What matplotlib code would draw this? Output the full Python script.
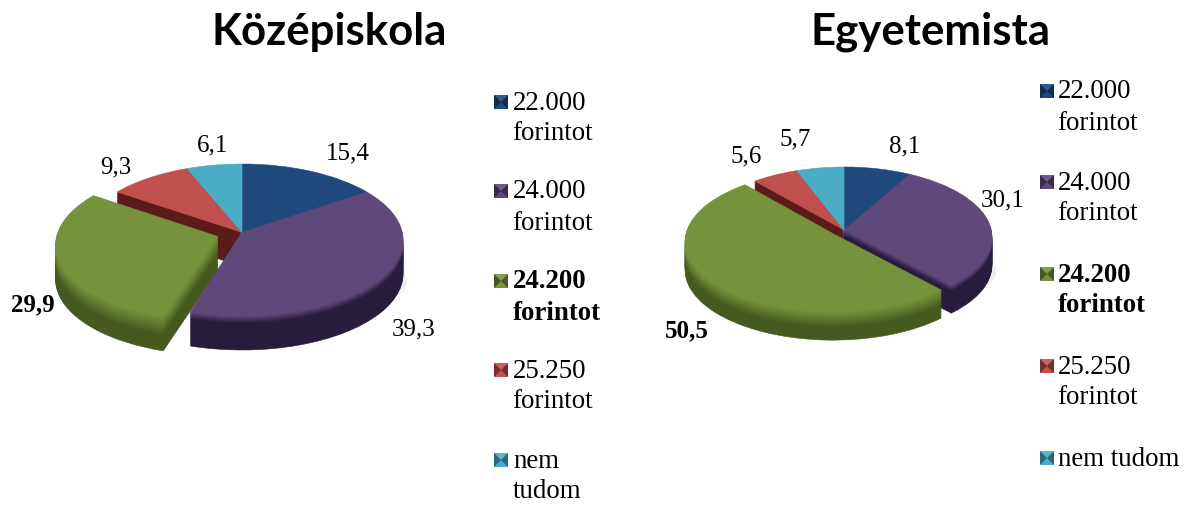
import matplotlib
matplotlib.use("Agg")
import matplotlib.pyplot as plt
import numpy as np
from matplotlib.colors import to_rgb
from matplotlib.patches import Ellipse, Polygon, Rectangle
from matplotlib.transforms import Transform

W, H = 1187, 505

titles = ["Középiskola", "Egyetemista"]
values_kozep = [15.4, 39.3, 29.9, 9.3, 6.1]
values_egyetem = [8.1, 30.1, 50.5, 5.6, 5.7]
labels_kozep = ["15,4", "39,3", "29,9", "9,3", "6,1"]
labels_egyetem = ["8,1", "30,1", "50,5", "5,6", "5,7"]
legend_kozep = ["22.000\nforintot", "24.000\nforintot", "24.200\nforintot", "25.250\nforintot", "nem\ntudom"]
legend_egyetem = ["22.000\nforintot", "24.000\nforintot", "24.200\nforintot", "25.250\nforintot", "nem tudom"]
top_colors = ["#1f497d", "#5f497a", "#76923c", "#c0504d", "#4bacc6"]
dark_colors = ["#10274a", "#281c3c", "#46591f", "#5a1c1a", "#205868"]
blend_start = [0.85, 0.78, 0.45, 0.97, 0.85]

fig = plt.figure(figsize=(W / 100, H / 100), dpi=100, facecolor="white")


class Tilt(Transform):
    """Perspective of the pie plane: keeps the rim a circle, moves the apex back."""
    input_dims = output_dims = 2
    is_separable = False
    has_inverse = False

    def __init__(self, r, c, dy):
        super().__init__()
        self.r, self.c, self.dy = r, c, dy

    def transform_non_affine(self, xy):
        xy = np.asarray(xy, dtype=float)
        x, y = xy[:, 0] / self.r, xy[:, 1] / self.r
        d = 1 + self.c * y
        s = np.sqrt(1 - self.c ** 2)
        return np.column_stack((x * s / d * self.r, (y + self.c) / d * self.r + self.dy))


def mix(a, b, t):
    a, b = to_rgb(a), to_rgb(b)
    return tuple(a[i] + (b[i] - a[i]) * t for i in range(3))


def side_colors(t):
    out = []
    for top, dark, start in zip(top_colors, dark_colors, blend_start):
        if t > start:
            out.append(mix(dark, top, (t - start) / (1 - start)))
        else:
            out.append(to_rgb(dark))
    return out


def pie3d(values, cx, cy, rx, ry, depth, explode_frac, tilt):
    ax = fig.add_axes([0, 0, 1, 1], zorder=1)
    ax.patch.set_alpha(0)
    k = rx / ry
    explode = [explode_frac * rx if i == 2 else 0 for i in range(len(values))]
    for off, col in [(9, "#f1f1f1"), (6, "#ececec")]:
        ax.add_patch(Ellipse((0, -(depth + off) * k), 2 * rx + 8, 2 * ry, color=col, lw=0))
    for p in range(depth, -1, -1):
        cols = top_colors if p == 0 else side_colors(1 - p / depth)
        wedges, _ = ax.pie(values, explode=explode, colors=cols, startangle=90, counterclock=False,
                           radius=rx, frame=False)
        for w in wedges:
            w.set_transform(Tilt(rx, tilt, -p * k) + ax.transData)
            w.set_edgecolor(w.get_facecolor())
            w.set_linewidth(0.4)
    ax.set_aspect("auto")
    ax.set_xlim(-cx, W - cx)
    ax.set_ylim(-(H - cy) * k, cy * k)
    ax.set_xticks([])
    ax.set_yticks([])
    ax.axis("off")


pie3d(values_kozep, 242, 240, 161, 76, 34, 0.16, 0.10)
pie3d(values_egyetem, 844, 237, 148, 70, 28, 0.09, 0.10)

ov = fig.add_axes([0, 0, 1, 1], zorder=5)
ov.set_xlim(0, W)
ov.set_ylim(H, 0)
ov.axis("off")

SERIF = "Liberation Serif"
ov.text(329, 32, titles[0], ha="center", va="center", family="Lato", weight="bold", fontsize=31.5)
ov.text(930, 32, titles[1], ha="center", va="center", family="Lato", weight="bold", fontsize=31.5)

pos_l = [(348, 153), (414, 329), (33, 305), (116, 167), (213, 145)]
pos_r = [(905, 146), (1003, 200), (687, 331), (746, 156), (795, 139)]
for labs, poss in [(labels_kozep, pos_l), (labels_egyetem, pos_r)]:
    for i, (s, (x, y)) in enumerate(zip(labs, poss)):
        ov.text(x, y, s, ha="center", va="center", family=SERIF, fontsize=18,
                weight="bold" if i == 2 else "normal", color="black")


def key(x, y, col):
    s = 14
    dark = mix(col, "#000000", 0.4)
    light = mix(col, "#ffffff", 0.1)
    mid = (x + s / 2, y)
    x0, x1, y0, y1 = x, x + s, y - s / 2, y + s / 2
    ov.add_patch(Rectangle((x0, y0), s, s, fc=col, lw=0))
    ov.add_patch(Polygon([(x0, y0), (x1, y0), mid], fc=light, lw=0))
    ov.add_patch(Polygon([(x0, y0), (x0, y1), mid], fc=dark, lw=0))
    ov.add_patch(Polygon([(x1, y0), (x1, y1), mid], fc=dark, lw=0))


def legend(labels, ys, key_x, text_x):
    for i, (s, y) in enumerate(zip(labels, ys)):
        key(key_x, y + 1, top_colors[i])
        for j, line in enumerate(s.split("\n")):
            nudge = -1 if line == "forintot" and i != 2 else 0
            ov.text(text_x + nudge, y + 2 + j * 31, line, ha="left", va="center", family=SERIF, fontsize=19.4,
                    weight="bold" if i == 2 else "normal", color="black")


legend(legend_kozep, [101, 190, 280, 369, 459], 494, 513)
legend(legend_egyetem, [90, 181, 273, 365, 457], 1040, 1058)

fig.savefig("out.png", dpi=100)
